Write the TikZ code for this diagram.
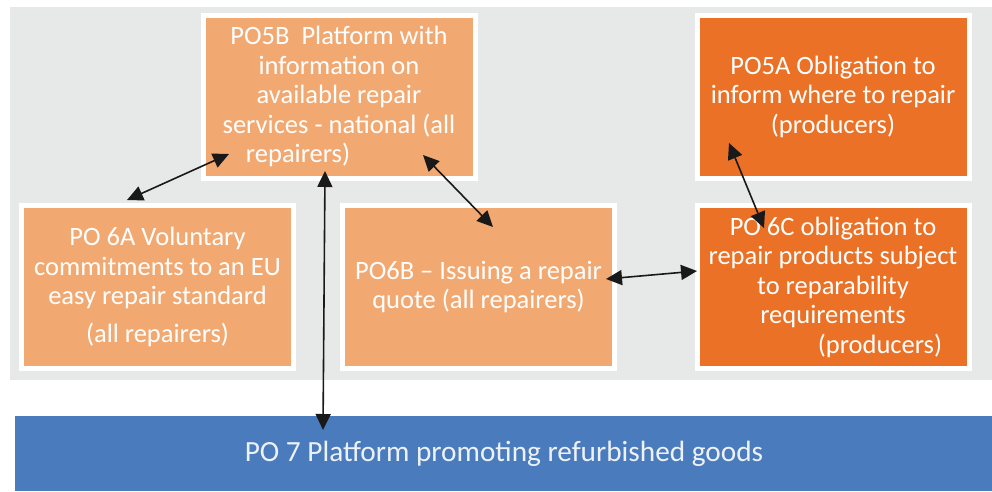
\documentclass[tikz,border=0pt]{standalone}
\usepackage{fontspec}
\setmainfont{Carlito}
\usetikzlibrary{arrows.meta,calc}
\definecolor{bggray}{HTML}{E7E8E8}
\definecolor{lor}{HTML}{F2A971}
\definecolor{dor}{HTML}{EA7125}
\definecolor{pblue}{HTML}{4A7BBD}
\begin{document}
\begin{tikzpicture}[x=1pt,y=-1pt,
  box/.style={draw=white, line width=5pt, minimum width=272pt, minimum height=163pt,
    inner sep=0pt, text=white, align=center, font=\fontsize{26.5}{29.5}\selectfont},
  lightbox/.style={box, fill=lor},
  darkbox/.style={box, fill=dor},
  link/.style={{Triangle[length=16pt,width=15pt]}-{Triangle[length=16pt,width=15pt]},
    line width=1.6pt, draw=black!90}]
\useasboundingbox (0,0) rectangle (992,491);
\fill[bggray] (10,7) rectangle (992,380);
\node[lightbox] (po5b) at (339,96.5) {PO5B\ \ Platform with\\information on\\available repair\\services - national (all\\repairers)\hspace*{82pt}};
\node[darkbox] (po5a) at (833,96.5) {PO5A Obligation to\\inform where to repair\\(producers)};
\node[lightbox] (po6a) at (157.5,287) {PO 6A Voluntary\\commitments to an EU\\easy repair standard\\[8pt](all repairers)};
\node[lightbox] (po6b) at (478.5,287) {PO6B -- Issuing a repair\\quote (all repairers)};
\node[darkbox] (po6c) at (833,287) {PO 6C obligation to\\repair products subject\\to reparability\\requirements\\\hspace*{94pt}(producers)};
\node[fill=pblue, minimum width=978pt, minimum height=75pt, inner sep=0pt,
  text=white!90!pblue, font=\fontsize{29.3}{36}\selectfont] (po7) at (504,453.5)
  {PO 7 Platform promoting refurbished goods};
\coordinate (c6a) at (127,200);
\coordinate (c5bl) at (229,154);
\coordinate (c5bm) at (325,171);
\coordinate (c7) at (323,430);
\coordinate (c5br) at (423,155);
\coordinate (c6bt) at (493,227);
\coordinate (c5a) at (729,143);
\coordinate (c6ct) at (764,228);
\coordinate (c6br) at (606,279);
\coordinate (c6cl) at (697,271);
\draw[link] (c6a) -- (c5bl);
\draw[link] (c5bm) -- (c7);
\draw[link] (c5br) -- (c6bt);
\draw[link] (c5a) -- (c6ct);
\draw[link] (c6br) -- (c6cl);
\end{tikzpicture}
\end{document}
